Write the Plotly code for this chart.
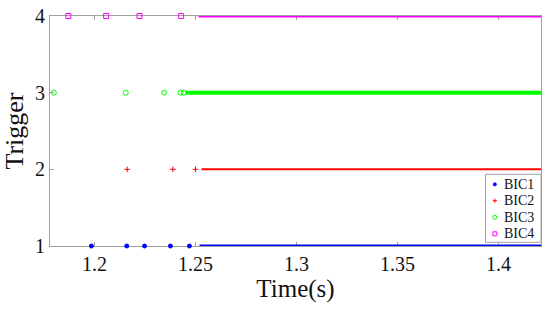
import plotly.graph_objects as go

# sparse trigger instants (s)
bic1_t = [1.1985, 1.2160, 1.2248, 1.2376, 1.2470]
bic2_t = [1.2162, 1.2388, 1.2500]
bic3_t = [1.1799, 1.2155, 1.2345, 1.2426, 1.2441]
bic4_t = [1.1871, 1.2058, 1.2223, 1.2429]

# start / end of the continuous (dense) trigger region of each signal
bic1_dense = [1.2520, 1.4210]
bic2_dense = [1.2530, 1.4210]
bic3_dense = [1.2450, 1.4210]
bic4_dense = [1.2515, 1.4210]

levels = [1, 2, 3, 4]
names = ['BIC1', 'BIC2', 'BIC3', 'BIC4']
colors = ['#0000ff', '#ff0000', '#00ff00', '#ff00ff']
symbols = ['circle', 'cross-thin', 'circle-open', 'square-open']
sizes = [4, 4, 5, 5]
band_w = [3, 2, 4, 3]

sparse = [bic1_t, bic2_t, bic3_t, bic4_t]
dense = [bic1_dense, bic2_dense, bic3_dense, bic4_dense]

font = 'Liberation Serif'
fig = go.Figure()

for i in range(4):
    fig.add_trace(go.Scatter(
        x=dense[i], y=[levels[i]] * len(dense[i]), mode='lines',
        line=dict(color=colors[i], width=band_w[i]),
        showlegend=False, hoverinfo='skip'))

for i in range(4):
    fig.add_trace(go.Scatter(
        x=sparse[i], y=[levels[i]] * len(sparse[i]), mode='markers',
        name=names[i], cliponaxis=False, showlegend=False,
        marker=dict(color=colors[i], symbol=symbols[i], size=sizes[i],
                    line=dict(color=colors[i], width=1))))

# matlab-like legend box, placed in plot-fraction coordinates
leg_y = [0.268, 0.197, 0.125, 0.053]
leg_mx, leg_tx = 0.906, 0.921
fig.add_shape(type='rect', xref='paper', yref='paper', x0=0.887, x1=1.0,
              y0=0.016, y1=0.312, line=dict(color='#a0a0a0', width=1),
              fillcolor='white', layer='below')
for i in range(4):
    fig.add_trace(go.Scatter(
        x=[leg_mx], y=[leg_y[i]], xaxis='x2', yaxis='y2', mode='markers',
        showlegend=False, hoverinfo='skip', cliponaxis=False,
        marker=dict(color=colors[i], symbol=symbols[i], size=sizes[i] - 1,
                    line=dict(color=colors[i], width=1))))
    fig.add_annotation(x=leg_tx, y=leg_y[i], xref='paper', yref='paper',
                       text=names[i], showarrow=False, xanchor='left',
                       yanchor='middle',
                       font=dict(family=font, size=14, color='#111111'))

axis_common = dict(
    showgrid=False, zeroline=False, showline=True, linecolor='#a0a0a0',
    linewidth=1, mirror='ticks', ticks='inside', ticklen=4,
    tickcolor='#a0a0a0', layer='below traces', ticklabeloverflow='allow',
    tickfont=dict(family=font, size=20, color='#111111'))

fig.update_layout(
    width=550, height=315,
    margin=dict(l=50, r=9, t=16, b=69, autoexpand=False),
    plot_bgcolor='white', paper_bgcolor='white',
    font=dict(family=font, color='#111111'),
    showlegend=False,
    xaxis=dict(range=[1.178, 1.421], tickvals=[1.2, 1.25, 1.3, 1.35, 1.4],
               ticktext=['1.2', '1.25', '1.3', '1.35', '1.4'],
               title=dict(text='Time(s)', font=dict(family=font, size=25), standoff=2),
               **axis_common),
    yaxis=dict(range=[1, 4], tickvals=levels, ticktext=['1', '2', '3', '4'],
               title=dict(text='Trigger', font=dict(family=font, size=26), standoff=4),
               **axis_common),
    xaxis2=dict(overlaying='x', range=[0, 1], visible=False),
    yaxis2=dict(overlaying='y', range=[0, 1], visible=False),
)

# drop the default page margin so the figure sits at the window's corner
fig.write_html("out.html", config={'displayModeBar': False},
               post_script="document.body.style.margin = '0';")
